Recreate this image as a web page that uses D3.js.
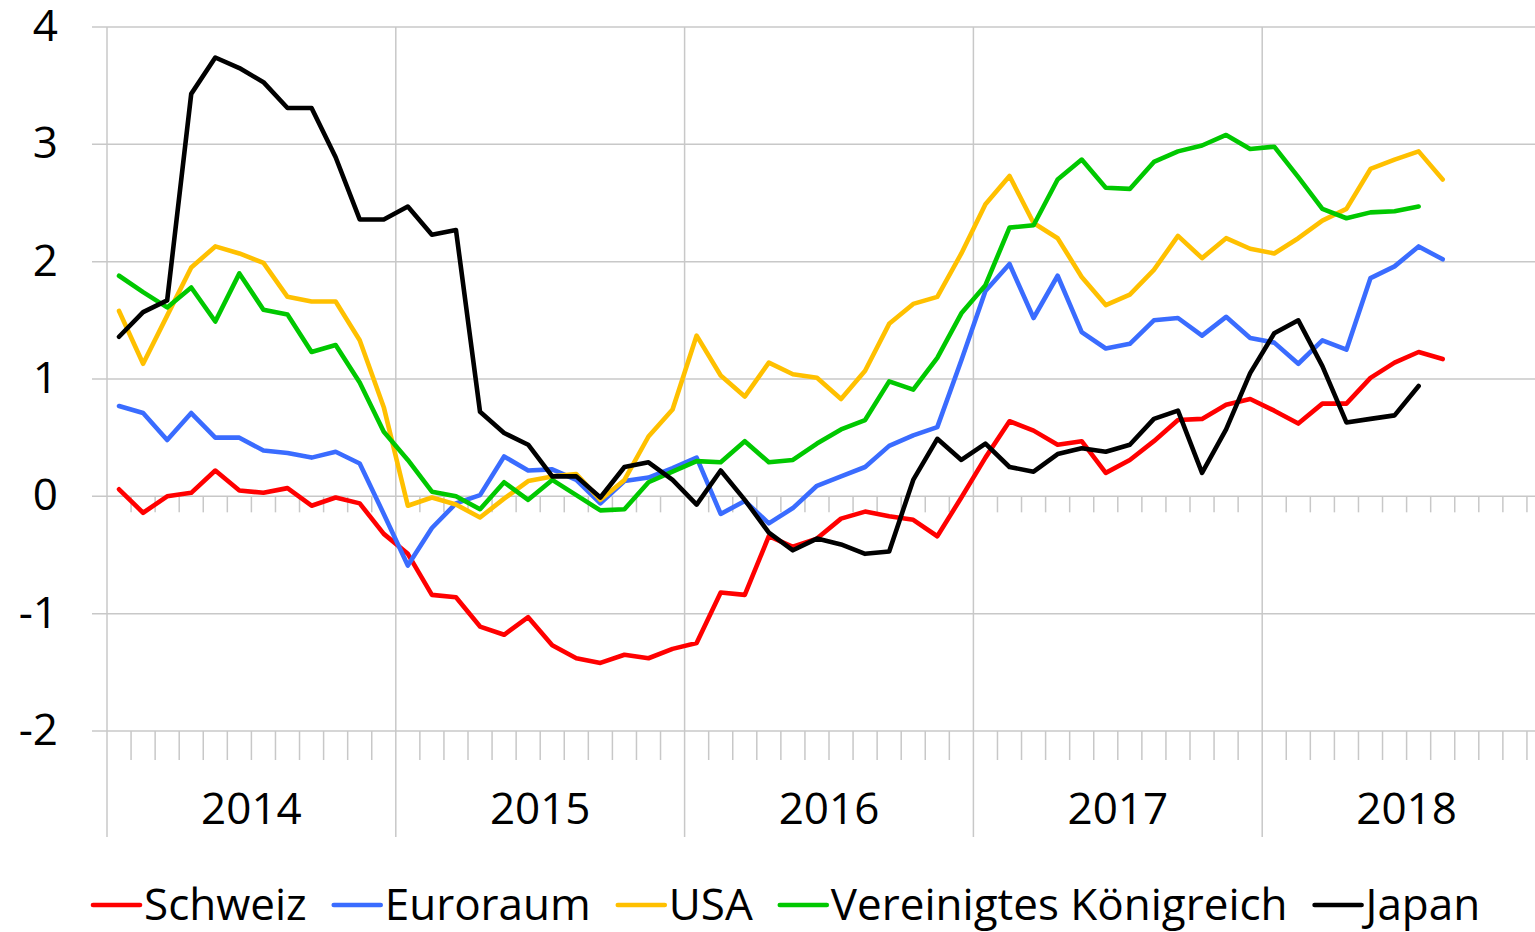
<!DOCTYPE html>
<html>
<head>
<meta charset="utf-8">
<script src="https://cdn.jsdelivr.net/npm/d3@7"></script>
<style>
  body { margin: 0; background: #fff; overflow: hidden; }
  svg { display: block; font-family: "Open Sans", "Noto Sans", sans-serif; }
</style>
</head>
<body>
<div id="chart"></div>
<script>
// monthly values, Jan 2014 .. Aug 2018
const years = ['2014', '2015', '2016', '2017', '2018'];
const yTicks = [-2, -1, 0, 1, 2, 3, 4];

const schweiz = [0.06, -0.14, 0.0, 0.03, 0.22, 0.05, 0.03, 0.07, -0.08, -0.01, -0.06, -0.32,
  -0.49, -0.84, -0.86, -1.11, -1.18, -1.03, -1.27, -1.38, -1.42, -1.35, -1.38, -1.30,
  -1.25, -0.82, -0.84, -0.34, -0.43, -0.36, -0.19, -0.13, -0.17, -0.20, -0.34, -0.01,
  0.33, 0.64, 0.56, 0.44, 0.47, 0.20, 0.31, 0.47, 0.65, 0.66, 0.78, 0.83,
  0.73, 0.62, 0.79, 0.79, 1.01, 1.14, 1.23, 1.17];

const euroraum = [0.77, 0.71, 0.48, 0.71, 0.50, 0.50, 0.39, 0.37, 0.33, 0.38, 0.28, -0.15,
  -0.59, -0.27, -0.06, 0.01, 0.34, 0.22, 0.23, 0.14, -0.06, 0.13, 0.16, 0.24,
  0.33, -0.15, -0.04, -0.23, -0.10, 0.09, 0.17, 0.25, 0.43, 0.52, 0.59, 1.16,
  1.75, 1.98, 1.52, 1.88, 1.40, 1.26, 1.30, 1.50, 1.52, 1.37, 1.53, 1.35,
  1.31, 1.13, 1.33, 1.25, 1.86, 1.96, 2.13, 2.02];

const usa = [1.58, 1.13, 1.54, 1.95, 2.13, 2.07, 1.99, 1.70, 1.66, 1.66, 1.33, 0.76,
  -0.08, -0.01, -0.07, -0.18, -0.02, 0.13, 0.17, 0.19, -0.03, 0.14, 0.51, 0.74,
  1.37, 1.03, 0.85, 1.14, 1.04, 1.01, 0.83, 1.07, 1.47, 1.64, 1.70, 2.07,
  2.49, 2.73, 2.33, 2.20, 1.87, 1.63, 1.72, 1.93, 2.22, 2.03, 2.20, 2.11,
  2.07, 2.20, 2.35, 2.45, 2.79, 2.87, 2.94, 2.70];

const uk = [1.88, 1.74, 1.61, 1.78, 1.49, 1.90, 1.59, 1.55, 1.23, 1.29, 0.97, 0.55,
  0.31, 0.04, 0.00, -0.11, 0.12, -0.03, 0.14, 0.01, -0.12, -0.11, 0.12, 0.21,
  0.30, 0.29, 0.47, 0.29, 0.31, 0.45, 0.57, 0.65, 0.98, 0.91, 1.18, 1.56,
  1.80, 2.29, 2.31, 2.70, 2.87, 2.63, 2.62, 2.85, 2.94, 2.99, 3.08, 2.96,
  2.98, 2.72, 2.45, 2.37, 2.42, 2.43, 2.47];

const japan = [1.36, 1.57, 1.67, 3.43, 3.74, 3.65, 3.53, 3.31, 3.31, 2.89, 2.36, 2.36,
  2.47, 2.23, 2.27, 0.72, 0.54, 0.44, 0.17, 0.17, -0.01, 0.25, 0.29, 0.14,
  -0.07, 0.22, -0.03, -0.31, -0.46, -0.36, -0.41, -0.49, -0.47, 0.14, 0.49, 0.31,
  0.45, 0.25, 0.21, 0.36, 0.41, 0.38, 0.44, 0.66, 0.73, 0.20, 0.57, 1.05,
  1.39, 1.50, 1.11, 0.63, 0.66, 0.69, 0.94];

const seriesNames = ['Schweiz', 'Euroraum', 'USA', 'Vereinigtes Königreich', 'Japan'];
const seriesValues = [schweiz, euroraum, usa, uk, japan];
const seriesColors = ['#ff0000', '#3a6cff', '#ffc000', '#00c800', '#000000'];

const W = 1535, H = 932;
const margin = { top: 27, left: 107, bottom: 201 };
const plotRight = 1551;          // axis runs past the picture edge
const gridColor = '#c8c8c8';

const months = d3.timeMonth.range(new Date(2014, 0, 1), new Date(2019, 0, 1));

const svg = d3.select('#chart').append('svg')
    .attr('width', W)
    .attr('height', H);

const x = d3.scaleBand()
    .domain(d3.range(months.length))
    .range([margin.left, plotRight]);

const y = d3.scaleLinear()
    .domain([-2, 4])
    .range([H - margin.bottom, margin.top]);

const xc = i => x(i) + x.bandwidth() / 2;

// horizontal grid
svg.append('g').selectAll('line')
    .data(yTicks)
    .enter().append('line')
    .attr('x1', 92).attr('x2', plotRight)
    .attr('y1', d => y(d)).attr('y2', d => y(d))
    .attr('stroke', gridColor)
    .attr('stroke-width', 1.5);

// y labels
svg.append('g').selectAll('text')
    .data(yTicks)
    .enter().append('text')
    .attr('x', 58)
    .attr('y', d => y(d) + 14)
    .attr('text-anchor', 'end')
    .style('font-size', '44px')
    .attr('fill', '#000')
    .text(d => d);

// month ticks at zero line and at bottom
const bounds = d3.range(1, months.length).filter(i => i % 12 !== 0);
svg.append('g').selectAll('line')
    .data(bounds)
    .enter().append('line')
    .attr('x1', d => x(d)).attr('x2', d => x(d))
    .attr('y1', y(0)).attr('y2', y(0) + 16)
    .attr('stroke', gridColor)
    .attr('stroke-width', 1.5);

svg.append('g').selectAll('line')
    .data(bounds)
    .enter().append('line')
    .attr('x1', d => x(d)).attr('x2', d => x(d))
    .attr('y1', y(-2)).attr('y2', y(-2) + 29)
    .attr('stroke', gridColor)
    .attr('stroke-width', 1.5);

// year separators (also the axis line at the left)
svg.append('g').selectAll('line')
    .data(d3.range(years.length + 1))
    .enter().append('line')
    .attr('x1', d => x(d * 12) !== undefined ? x(d * 12) : plotRight)
    .attr('x2', d => x(d * 12) !== undefined ? x(d * 12) : plotRight)
    .attr('y1', margin.top).attr('y2', 837)
    .attr('stroke', gridColor)
    .attr('stroke-width', 1.5);

// year labels
svg.append('g').selectAll('text')
    .data(years)
    .enter().append('text')
    .attr('x', (d, i) => x(i * 12) + x.bandwidth() * 6)
    .attr('y', 824)
    .attr('text-anchor', 'middle')
    .style('font-size', '44px')
    .attr('fill', '#000')
    .text(d => d);

// series
const line = d3.line()
    .x((d, i) => xc(i))
    .y(d => y(d));

seriesValues.forEach((vals, k) => {
    svg.append('path')
        .datum(vals)
        .attr('fill', 'none')
        .attr('stroke', seriesColors[k])
        .attr('stroke-width', 4.6)
        .attr('stroke-linejoin', 'round')
        .attr('stroke-linecap', 'round')
        .attr('d', line);
});

// legend
const legend = svg.append('g');
let lx = 93;
seriesNames.forEach((name, k) => {
    legend.append('line')
        .attr('x1', lx).attr('x2', lx + 47)
        .attr('y1', 905).attr('y2', 905)
        .attr('stroke', seriesColors[k])
        .attr('stroke-width', 4.6)
        .attr('stroke-linecap', 'round');
    const t = legend.append('text')
        .attr('x', lx + 51)
        .attr('y', 920)
        .style('font-size', '44px')
        .attr('fill', '#000')
        .text(name);
    lx += 51 + t.node().getComputedTextLength() + 27;
});
</script>
</body>
</html>
